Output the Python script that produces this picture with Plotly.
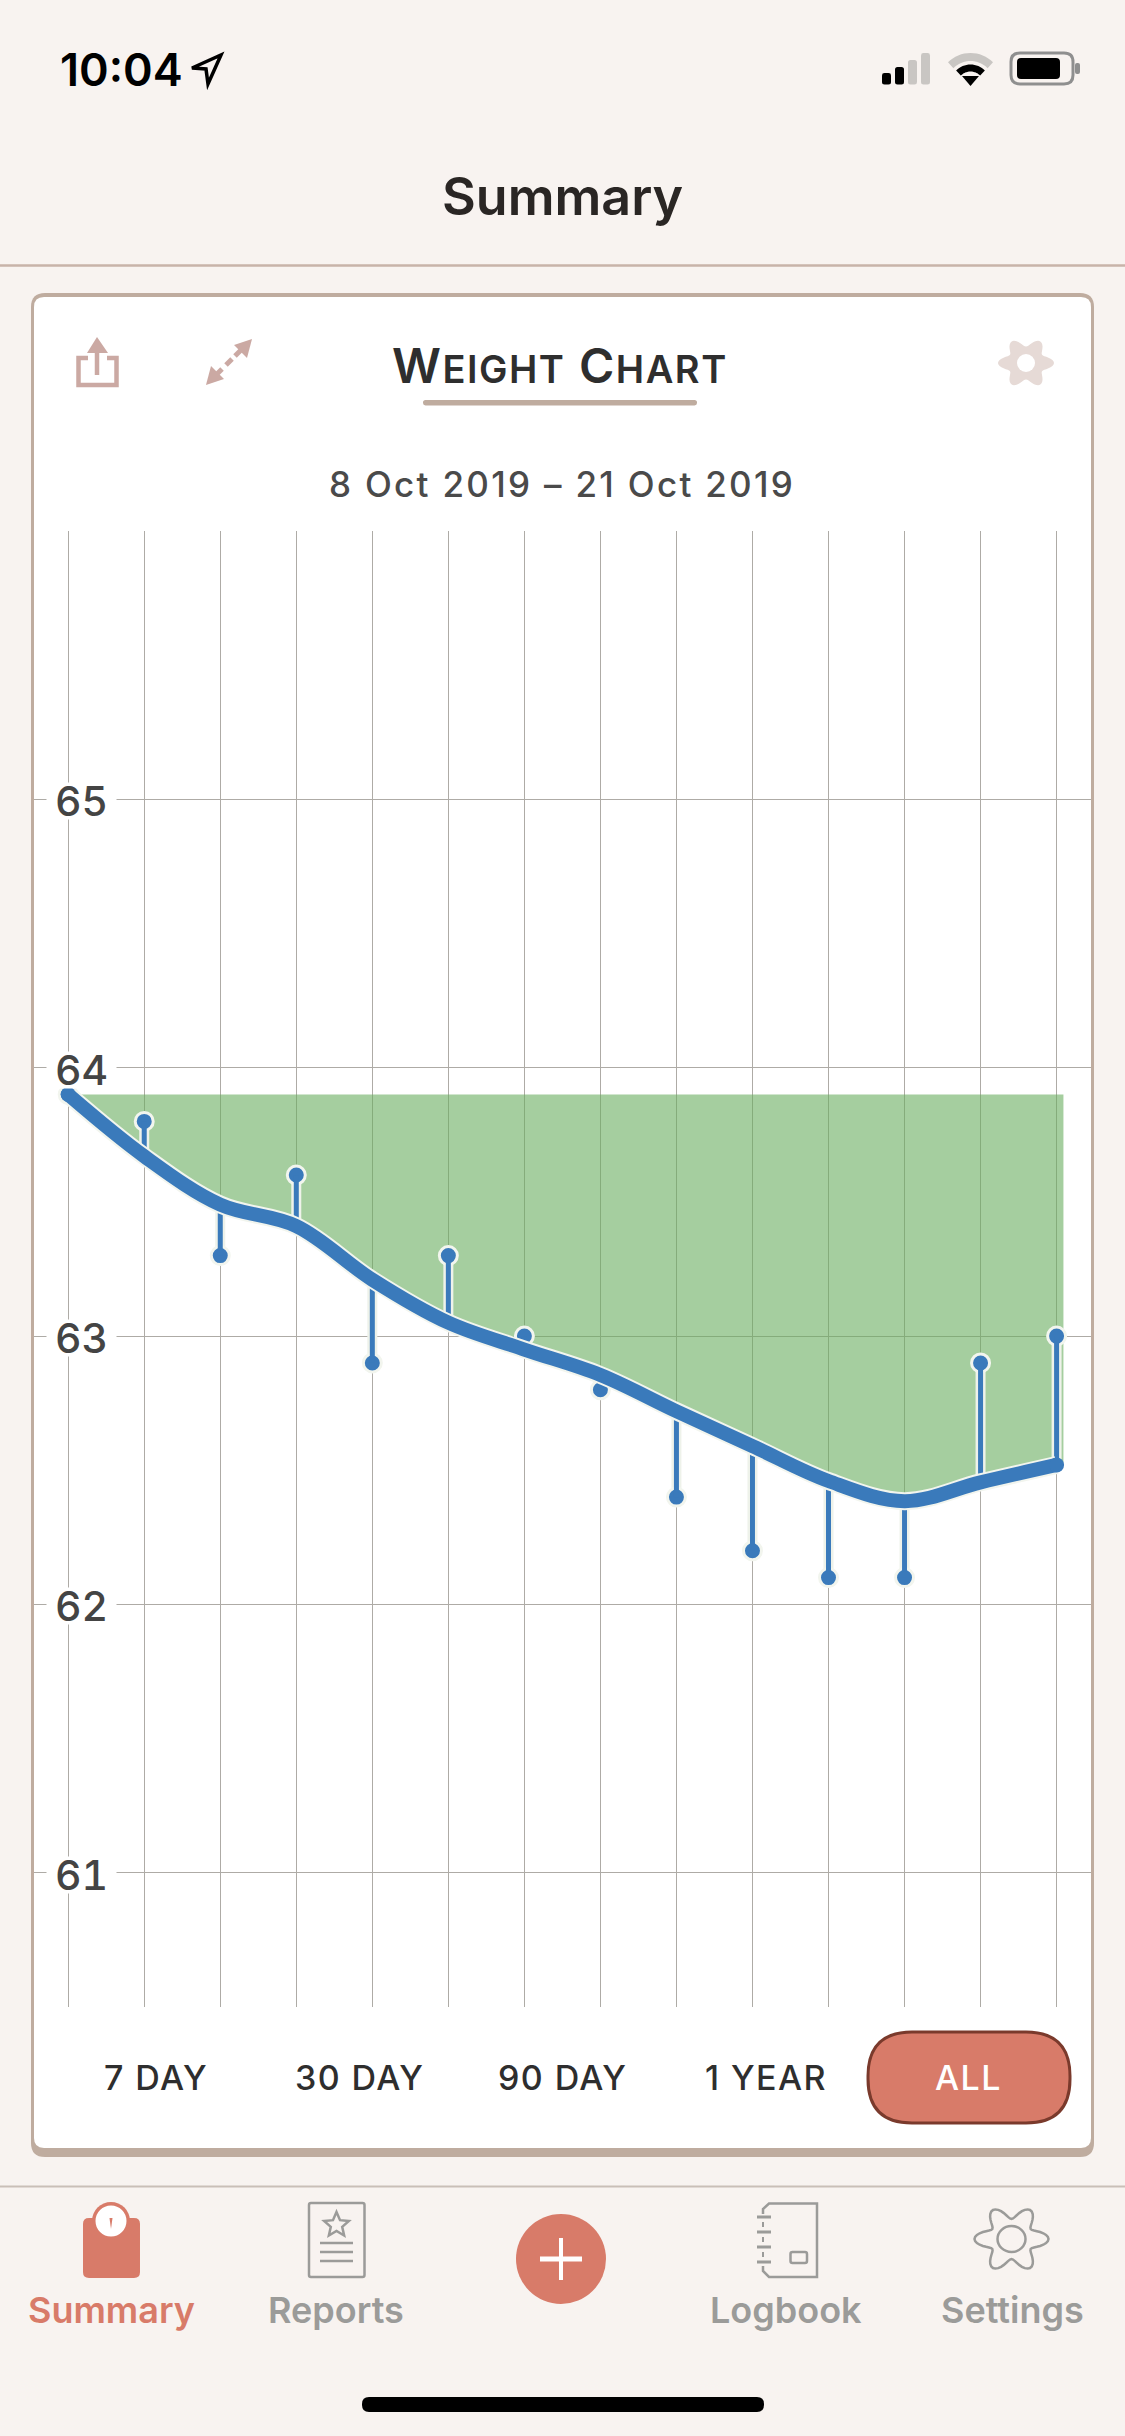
import math
import plotly.graph_objects as go

W, H = 1125, 2436
BG = "#F8F3F0"
CORAL = "#D87B69"
TAN = "#BFAC9F"
GREY = "#9B9B99"
BLUE = "#3A7ABB"
GRID = "#AEABA6"
UI_FONT = "Inter"

# -----------------------------
# Data
# -----------------------------
days = list(range(14))
weights = [63.9, 63.8, 63.3, 63.6, 62.9, 63.3, 63.0, 62.8, 62.4, 62.2, 62.1, 62.1, 62.9, 63.0]
trend = [63.9, 63.67, 63.49, 63.41, 63.21, 63.05, 62.95, 62.855, 62.72, 62.59, 62.46, 62.385, 62.455, 62.52]
start_weight = 63.9
fill_end_day = 13.09
fill_end_value = 62.53
y_labels = [61, 62, 63, 64, 65]
y_grid = [61, 62, 63, 64, 65, 66]
ranges = ["7 DAY", "30 DAY", "90 DAY", "1 YEAR", "ALL"]
tabs = ["Summary", "Reports", "Logbook", "Settings"]

# -----------------------------
# Helpers, pixels to paper
# -----------------------------
def X(x):
    return x / W

def Y(y):
    return 1 - y / H

def path(points, close=True):
    cmds = []
    for i, (x, y) in enumerate(points):
        cmds.append(f"{'M' if i == 0 else 'L'}{X(x):.5f},{Y(y):.5f}")
    return " ".join(cmds) + (" Z" if close else "")

def rrect_path(x0, y0, x1, y1, r):
    p = [
        f"M{X(x0 + r):.5f},{Y(y0):.5f}",
        f"L{X(x1 - r):.5f},{Y(y0):.5f}",
        f"Q{X(x1):.5f},{Y(y0):.5f} {X(x1):.5f},{Y(y0 + r):.5f}",
        f"L{X(x1):.5f},{Y(y1 - r):.5f}",
        f"Q{X(x1):.5f},{Y(y1):.5f} {X(x1 - r):.5f},{Y(y1):.5f}",
        f"L{X(x0 + r):.5f},{Y(y1):.5f}",
        f"Q{X(x0):.5f},{Y(y1):.5f} {X(x0):.5f},{Y(y1 - r):.5f}",
        f"L{X(x0):.5f},{Y(y0 + r):.5f}",
        f"Q{X(x0):.5f},{Y(y0):.5f} {X(x0 + r):.5f},{Y(y0):.5f} Z",
    ]
    return " ".join(p)

shapes = []

def rrect(x0, y0, x1, y1, r, fill=None, line=None, lw=0, layer="above"):
    shapes.append(dict(type="path", path=rrect_path(x0, y0, x1, y1, r), xref="paper", yref="paper",
                       fillcolor=fill or "rgba(0,0,0,0)", line=dict(color=line or "rgba(0,0,0,0)", width=lw), layer=layer))

def poly(points, fill=None, line=None, lw=0, close=True):
    shapes.append(dict(type="path", path=path(points, close), xref="paper", yref="paper",
                       fillcolor=fill or "rgba(0,0,0,0)", line=dict(color=line or "rgba(0,0,0,0)", width=lw)))

def seg(x0, y0, x1, y1, color, lw, layer="above"):
    shapes.append(dict(type="line", x0=X(x0), x1=X(x1), y0=Y(y0), y1=Y(y1), xref="paper", yref="paper",
                       line=dict(color=color, width=lw), layer=layer))

def circle(cx, cy, rx, ry, fill=None, line=None, lw=0):
    shapes.append(dict(type="circle", x0=X(cx - rx), x1=X(cx + rx), y0=Y(cy - ry), y1=Y(cy + ry),
                       xref="paper", yref="paper", fillcolor=fill or "rgba(0,0,0,0)",
                       line=dict(color=line or "rgba(0,0,0,0)", width=lw)))

def gear_points(cx, cy, rx, ry, depth=0.2, n=96):
    pts = []
    for i in range(n):
        a = 2 * math.pi * i / n
        r = 1 - depth + depth * math.cos(6 * a)
        pts.append((cx + rx * r * math.cos(a), cy + ry * r * math.sin(a)))
    return pts

def arc_points(cx, cy, r, a0=-135, a1=-45, n=16):
    pts = []
    for i in range(n + 1):
        a = math.radians(a0 + (a1 - a0) * i / n)
        pts.append((cx + r * math.cos(a), cy + r * math.sin(a)))
    return pts

annotations = []

def label(text, x, y, size, color="#2B2B2B", family=UI_FONT, weight=500, anchor="center", spacing=0):
    if spacing:
        text = f'<span style="letter-spacing:{spacing}px">{text}</span>'
    annotations.append(dict(text=text, x=X(x), y=Y(y), xref="paper", yref="paper", showarrow=False,
                            xanchor=anchor, yanchor="middle",
                            font=dict(family=family, size=size, color=color, weight=weight)))

# -----------------------------
# Screen chrome
# -----------------------------
# card, with the darker bottom edge
rrect(31, 293, 1094, 2157, 14, fill=TAN, layer="below")
rrect(34, 297, 1091, 2148, 10, fill="white", layer="below")
seg(0, 265.5, W, 265.5, "#C8B3A9", 2.5)
seg(0, 2186.5, W, 2186.5, "#C9BFB7", 2)

# status bar
label("10:04", 58, 69, 45, color="black", weight=600, anchor="left")
poly([(221, 55), (208, 84), (206, 69), (192, 68)], line="black", lw=3.5)
for x0, top, col in [(882, 73, "black"), (895, 67, "black"), (908, 60, "#C9C6C3"), (921, 53, "#C9C6C3")]:
    rrect(x0, top, x0 + 9, 84.5, 2.5, fill=col)
poly(arc_points(970.5, 85, 28), line="#C9C6C3", lw=8, close=False)
poly(arc_points(970.5, 85, 17), line="black", lw=7, close=False)
poly([(970.5, 86), (962, 76), (979, 76)], fill="black")
rrect(1011, 53, 1073, 84, 9, line="#8F8F8F", lw=3)
rrect(1017, 58, 1060, 79, 4, fill="black")
rrect(1075, 63, 1080, 74, 2, fill="#8F8F8F")

label("Summary", 562, 197, 52, color="#2A2624", weight=600)

# card header
label('W<span style="font-size:38px">EIGHT</span> C<span style="font-size:38px">HART</span>',
      560, 365, 48, color="#2E2E2E", weight=600, spacing=1.5)
rrect(423, 400, 697, 405.5, 2.5, fill=TAN)
label("8 Oct 2019 – 21 Oct 2019", 562, 484, 35, color="#4A4A4A", weight=500, spacing=2.3)

# share icon
share = "#CBA9A3"
poly([(88, 358), (78.5, 358), (78.5, 385), (116.5, 385), (116.5, 358), (107, 358)], line=share, lw=4.5, close=False)
seg(97, 350, 97, 375, share, 4.5)
poly([(97, 337), (108, 353), (87, 353)], fill=share)

# expand icon
expand = "#CBA9A3"
seg(235, 356, 243, 348, expand, 5)
seg(214, 377, 222, 369, expand, 5)
seg(226, 365, 232, 359, expand, 5)
poly([(252, 339), (247, 358), (234, 345)], fill=expand)
poly([(206, 385), (211, 366), (224, 379)], fill=expand)

# settings gear, top right
poly(gear_points(1026, 363, 28, 25, depth=0.17), fill="#E6DAD6")
circle(1026, 363, 9, 9, fill="white")

# range buttons
rrect(868, 2032, 1070, 2123, 44, fill=CORAL, line="#7A3A2C", lw=3)
for name, cx in zip(ranges, [156, 359.5, 562, 766, 968.5]):
    label(name, cx, 2077, 34, color="white" if name == "ALL" else "#2E2E2E", weight=500, spacing=1.4)

# tab bar labels
for name, cx in zip(tabs, [111, 336, 786, 1012]):
    label(name, cx, 2310, 36, color=CORAL if name == "Summary" else GREY, weight=600)

# scale icon
rrect(83, 2218, 140, 2278, 6, fill=CORAL)
circle(111, 2221, 19, 19, fill=CORAL)
circle(111, 2221, 15.5, 15.5, fill="white")
poly([(109.5, 2218), (112.5, 2218), (111, 2229)], fill=CORAL)

# reports icon
rrect(309, 2203, 364.5, 2277, 2, line=GREY, lw=2.5)
star = []
for i in range(10):
    a = math.radians(-90 + 36 * i)
    r = 13 if i % 2 == 0 else 6
    star.append((336.5 + r * math.cos(a), 2225 + r * math.sin(a)))
poly(star, line=GREY, lw=2.5)
for yy in [2243, 2252, 2261]:
    seg(320, yy, 353, yy, GREY, 2.5)

# add button
circle(561, 2259, 45, 45, fill=CORAL)
seg(540, 2259, 582, 2259, "white", 5)
seg(561, 2238, 561, 2280, "white", 4)

# logbook icon
poly([(763, 2214), (763, 2209), (769, 2203.5), (817, 2203.5), (817, 2277), (769, 2277), (763, 2271), (763, 2266)],
     line=GREY, lw=2.5, close=False)
for yy in [2217, 2232, 2247, 2262]:
    seg(757, yy, 771, yy, GREY, 3)
for yy in [2222, 2237, 2252]:
    seg(763, yy, 763, yy + 5, GREY, 2)
rrect(790.5, 2252, 807, 2263, 2, line=GREY, lw=2.5)

# settings icon
poly(gear_points(1011.5, 2239, 37, 33.5), line=GREY, lw=2.5)
circle(1011.5, 2239, 14, 13, line=GREY, lw=2.5)

# home indicator
rrect(362, 2397, 764, 2412, 7, fill="black")

# y labels sit on the grid with a white patch behind them
for v in y_labels:
    annotations.append(dict(text=f'<span style="font-variant-numeric:tabular-nums">{v}</span>',
                            x=X(81.5), y=v, xref="paper", yref="y", showarrow=False,
                            xanchor="center", yanchor="middle", yshift=-2, width=69, height=36,
                            borderpad=0, bgcolor="white",
                            font=dict(family="Inter", size=41, color="#444444", weight=500)))

# -----------------------------
# Chart
# -----------------------------
stem_x, stem_y = [], []
for d, w, t in zip(days, weights, trend):
    stem_x += [d, d, None]
    stem_y += [w, t, None]

fig = go.Figure()
fig.add_trace(go.Scatter(x=[0, fill_end_day], y=[start_weight, start_weight], mode="lines",
                         line=dict(width=0), showlegend=False))
fig.add_trace(go.Scatter(x=days + [fill_end_day], y=trend + [fill_end_value], mode="lines",
                         line=dict(width=0, shape="spline", smoothing=1), fill="tonexty",
                         fillcolor="rgba(105,173,95,0.6)", showlegend=False))
fig.add_trace(go.Scatter(x=stem_x, y=stem_y, mode="lines", line=dict(color="#EEF2EA", width=10), showlegend=False))
fig.add_trace(go.Scatter(x=days, y=weights, mode="markers",
                         marker=dict(color=BLUE, size=18, line=dict(color="#F2F5EE", width=3)), showlegend=False))
fig.add_trace(go.Scatter(x=stem_x, y=stem_y, mode="lines", line=dict(color=BLUE, width=5), showlegend=False))
fig.add_trace(go.Scatter(x=days, y=trend, mode="lines",
                         line=dict(color="#F2F5EE", width=18, shape="spline", smoothing=1), showlegend=False))
fig.add_trace(go.Scatter(x=days, y=trend, mode="lines",
                         line=dict(color=BLUE, width=14, shape="spline", smoothing=1), showlegend=False))
# round ends of the trend line
fig.add_trace(go.Scatter(x=[days[0], days[-1]], y=[trend[0], trend[-1]], mode="markers",
                         marker=dict(color=BLUE, size=15, opacity=1, line=dict(width=0)), showlegend=False))

fig.update_layout(
    width=W,
    height=H,
    margin=dict(l=0, r=0, t=0, b=0),
    paper_bgcolor=BG,
    plot_bgcolor="white",
    showlegend=False,
    hovermode=False,
    shapes=shapes,
    annotations=annotations,
    xaxis=dict(domain=[X(34), X(1091)], range=[(34 - 68.2) / 76.03, (1091 - 68.2) / 76.03],
               tickvals=days, showticklabels=False, ticks="", showgrid=True, gridcolor=GRID, gridwidth=1,
               zeroline=False, showline=False, fixedrange=True),
    yaxis=dict(domain=[Y(2007), Y(531)], range=[60.5, 66],
               tickvals=y_grid, showticklabels=False, ticks="", showgrid=True, gridcolor=GRID, gridwidth=1,
               zeroline=False, showline=False, fixedrange=True),
)

fig.write_html("out.html", config={"displayModeBar": False},
               post_script=f"document.body.style.margin='0';document.body.style.background='{BG}';")
